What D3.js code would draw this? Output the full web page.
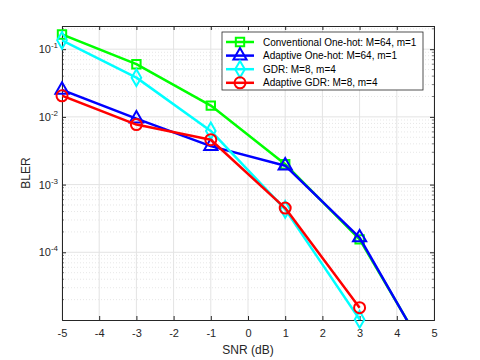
<!DOCTYPE html>
<meta charset="utf-8">
<style>
body { margin: 0; background: #fff; }
svg text { font-family: "Liberation Sans", Arial, sans-serif; }
</style>
<svg width="480" height="360"></svg>
<script src="https://cdn.jsdelivr.net/npm/d3@7"></script>
<script>
// snr points and BLER per scheme
var snr = [-5, -3, -1, 1, 3, 5];
var convOneHot = [0.165, 0.060, 0.0147, 0.0020, 0.000155, 0.0000021];
var adaptOneHot = [0.025, 0.0094, 0.0037, 0.0019, 0.000165, 0.000002];
var gdr = [0.135, 0.038, 0.0062, 0.00043, 0.0000102];
var adaptGdr = [0.0205, 0.0077, 0.0046, 0.00045, 0.0000152];
var names = ["Conventional One-hot: M=64, m=1", "Adaptive One-hot: M=64, m=1",
             "GDR: M=8, m=4", "Adaptive GDR: M=8, m=4"];
var colors = ["#00ff00", "#0000ff", "#00ffff", "#ff0000"];
var markers = ["square", "triangle", "diamond", "circle"];
var xTicks = [-5, -4, -3, -2, -1, 0, 1, 2, 3, 4, 5];
var yTicks = [1e-4, 1e-3, 1e-2, 1e-1];

var series = [convOneHot, adaptOneHot, gdr, adaptGdr].map(function(v, i) {
  return {name: names[i], color: colors[i], marker: markers[i],
          pts: v.map(function(y, j) { return {x: snr[j], y: y}; })};
});

var svg = d3.select("svg");
var m = {left: 62, right: 46, top: 26, bottom: 40};
var W = 480 - m.left - m.right, H = 360 - m.top - m.bottom;
var x = d3.scaleLinear().domain([-5, 5]).range([0, W]);
var y = d3.scaleLog().domain([1e-5, 0.22]).range([H, 0]);

var g = svg.append("g").attr("transform", "translate(" + m.left + "," + m.top + ")");

// minor grid
var minor = [];
for (var e = -5; e <= -1; e++) for (var k = 2; k <= 9; k++) {
  var v = k * Math.pow(10, e);
  if (v <= 0.22) minor.push(v);
}
g.selectAll(".mgy").data(minor).enter().append("line")
  .attr("x1", 0).attr("x2", W).attr("y1", d => y(d)).attr("y2", d => y(d))
  .attr("stroke", "#dcdcdc").attr("stroke-width", 0.7).attr("stroke-dasharray", "1,2");
// major grid
g.selectAll(".gx").data(xTicks).enter().append("line")
  .attr("x1", d => x(d)).attr("x2", d => x(d)).attr("y1", 0).attr("y2", H)
  .attr("stroke", "#e3e3e3").attr("stroke-width", 1);
g.selectAll(".gy").data(yTicks).enter().append("line")
  .attr("x1", 0).attr("x2", W).attr("y1", d => y(d)).attr("y2", d => y(d))
  .attr("stroke", "#e3e3e3").attr("stroke-width", 1);

// axes
var axC = "#262626";
var xb = g.append("g").attr("transform", "translate(0," + H + ")")
  .call(d3.axisBottom(x).tickValues(xTicks).tickSize(-4).tickPadding(9).tickFormat(d => String(d)));
var xt = g.append("g").call(d3.axisTop(x).tickValues(xTicks).tickSize(-4).tickFormat(""));
var yl = g.append("g").call(d3.axisLeft(y).tickValues(yTicks).tickSize(-4).tickFormat(""));
var yr = g.append("g").attr("transform", "translate(" + W + ",0)")
  .call(d3.axisRight(y).tickValues(yTicks).tickSize(-4).tickFormat(""));
// minor ticks on y
[yl, yr].forEach(function(a, i) {
  a.selectAll(".mt").data(minor).enter().append("line")
    .attr("x1", 0).attr("x2", i ? -2 : 2).attr("y1", d => y(d)).attr("y2", d => y(d))
    .attr("stroke", axC).attr("stroke-width", 0.6);
});
[xb, xt, yl, yr].forEach(function(a) {
  a.select(".domain").attr("stroke", axC);
  a.selectAll(".tick line").attr("stroke", axC);
  a.selectAll("text").attr("fill", axC).style("font-size", "11px")
    .style("font-family", "'Liberation Sans', Arial, sans-serif");
});
// y tick labels 10^n
yTicks.forEach(function(d) {
  var t = g.append("text").attr("x", -4).attr("y", y(d) + 4)
    .attr("text-anchor", "end").attr("fill", axC).style("font-size", "11px");
  t.append("tspan").text("10");
  t.append("tspan").attr("dy", -5).style("font-size", "8px").text("-" + Math.abs(Math.round(Math.log10(d))));
});

// labels
svg.append("text").attr("x", m.left + W / 2).attr("y", 354).attr("text-anchor", "middle")
  .attr("fill", axC).style("font-size", "12px").text("SNR (dB)");
svg.append("text").attr("transform", "translate(30," + (m.top + H / 2) + ") rotate(-90)")
  .attr("text-anchor", "middle").attr("fill", axC).style("font-size", "12px").text("BLER");

// lines
svg.append("defs").append("clipPath").attr("id", "clip")
  .append("rect").attr("width", W).attr("height", H);
var line = d3.line().x(d => x(d.x)).y(d => y(d.y));
var sym = {
  square: d3.symbol().type(d3.symbolSquare).size(70),
  triangle: d3.symbol().type(d3.symbolTriangle).size(75),
  diamond: d3.symbol().type(d3.symbolDiamond).size(80),
  circle: d3.symbol().type(d3.symbolCircle).size(95)
};
var plot = g.append("g");
series.forEach(function(s) {
  plot.append("path").attr("d", line(s.pts)).attr("clip-path", "url(#clip)")
    .attr("fill", "none").attr("stroke", s.color).attr("stroke-width", 2.5)
    .attr("stroke-linejoin", "round");
  plot.selectAll(null).data(s.pts.filter(p => p.y >= 1e-5)).enter().append("path")
    .attr("d", sym[s.marker]())
    .attr("transform", p => "translate(" + x(p.x) + "," + y(p.y) + ")")
    .attr("fill", "none").attr("stroke", s.color).attr("stroke-width", 2);
});

// legend
var lg = svg.append("g").attr("transform", "translate(222,32)");
lg.append("rect").attr("width", 201).attr("height", 58)
  .attr("fill", "#fff").attr("stroke", axC).attr("stroke-width", 0.8);
series.forEach(function(s, i) {
  var row = lg.append("g").attr("transform", "translate(0," + (10 + i * 13.6) + ")");
  row.append("line").attr("x1", 4).attr("x2", 32).attr("stroke", s.color).attr("stroke-width", 2.5);
  row.append("path").attr("d", sym[s.marker]()).attr("transform", "translate(18,0)")
    .attr("fill", "none").attr("stroke", s.color).attr("stroke-width", 2);
  row.append("text").attr("x", 41).attr("y", 3.5).attr("fill", "#000")
    .style("font-size", "10px").text(s.name);
});
</script>
